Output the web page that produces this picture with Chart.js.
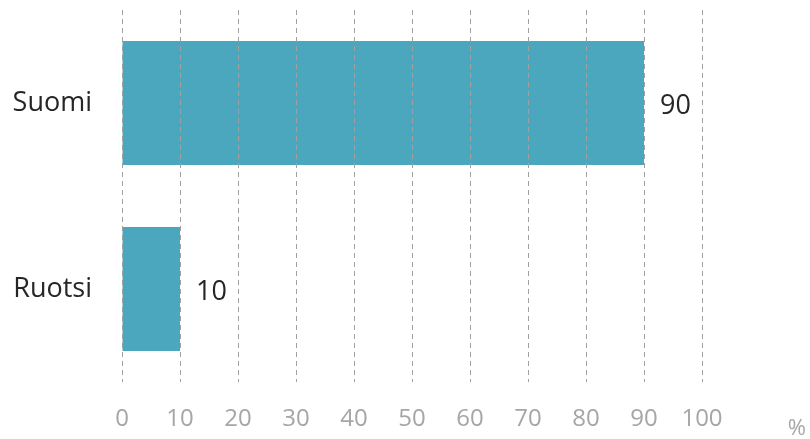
<!DOCTYPE html>
<html>
<head>
<meta charset="utf-8">
<script src="https://cdn.jsdelivr.net/npm/chart.js@4/dist/chart.umd.min.js"></script>
<style>
html,body{margin:0;padding:0;background:#fff;}
#wrap{width:810px;height:439px;position:relative;}
</style>
</head>
<body>
<div id="wrap"><canvas id="c" width="810" height="439"></canvas></div>
<script>
const categories = ["Suomi", "Ruotsi"];
const values = [90, 10];
const xTicks = [0, 10, 20, 30, 40, 50, 60, 70, 80, 90, 100];
const unitLabel = "%";

const FONT = "'Open Sans', 'Noto Sans', sans-serif";

const valueLabels = {
  id: 'valueLabels',
  afterDatasetsDraw(chart) {
    const ctx = chart.ctx;
    const meta = chart.getDatasetMeta(0);
    ctx.save();
    ctx.font = "27px " + FONT;
    ctx.fillStyle = "#262626";
    ctx.textAlign = "left";
    ctx.textBaseline = "middle";
    meta.data.forEach((bar, i) => {
      ctx.fillText(String(values[i]), bar.x + 16, bar.y + 3);
    });
    ctx.restore();
  }
};

const unitPlugin = {
  id: 'unitPlugin',
  afterDraw(chart) {
    const ctx = chart.ctx;
    ctx.save();
    ctx.font = "22px " + FONT;
    ctx.fillStyle = "#a6a6a6";
    ctx.textAlign = "right";
    ctx.textBaseline = "alphabetic";
    ctx.fillText(unitLabel, 806, 435);
    ctx.restore();
  }
};

new Chart(document.getElementById('c'), {
  type: 'bar',
  data: {
    labels: categories,
    datasets: [{
      data: values,
      backgroundColor: '#4aa7bd',
      borderWidth: 0,
      barPercentage: 0.667,
      categoryPercentage: 1.0
    }]
  },
  options: {
    indexAxis: 'y',
    responsive: false,
    animation: false,
    layout: { padding: { top: 10, right: 108, left: 0, bottom: 0 } },
    plugins: { legend: { display: false }, tooltip: { enabled: false } },
    scales: {
      x: {
        min: 0, max: 100,
        afterBuildTicks(scale) { scale.ticks = xTicks.map(v => ({ value: v })); },
        afterFit(scale) { scale.height = 57; },
        border: { display: false, dash: [5, 4] },
        grid: { color: '#a0a0a0', lineWidth: 1, drawTicks: false, z: 1 },
        ticks: { color: '#a6a6a6', font: { family: FONT, size: 24 }, padding: 23 }
      },
      y: {
        afterFit(scale) { scale.width = 122; scale.paddingTop = 0; scale.paddingBottom = 0; },
        border: { display: false },
        grid: { display: false, drawTicks: false },
        ticks: { color: '#262626', font: { family: FONT, size: 27 }, padding: 30 }
      }
    }
  },
  plugins: [valueLabels, unitPlugin]
});
</script>
</body>
</html>
